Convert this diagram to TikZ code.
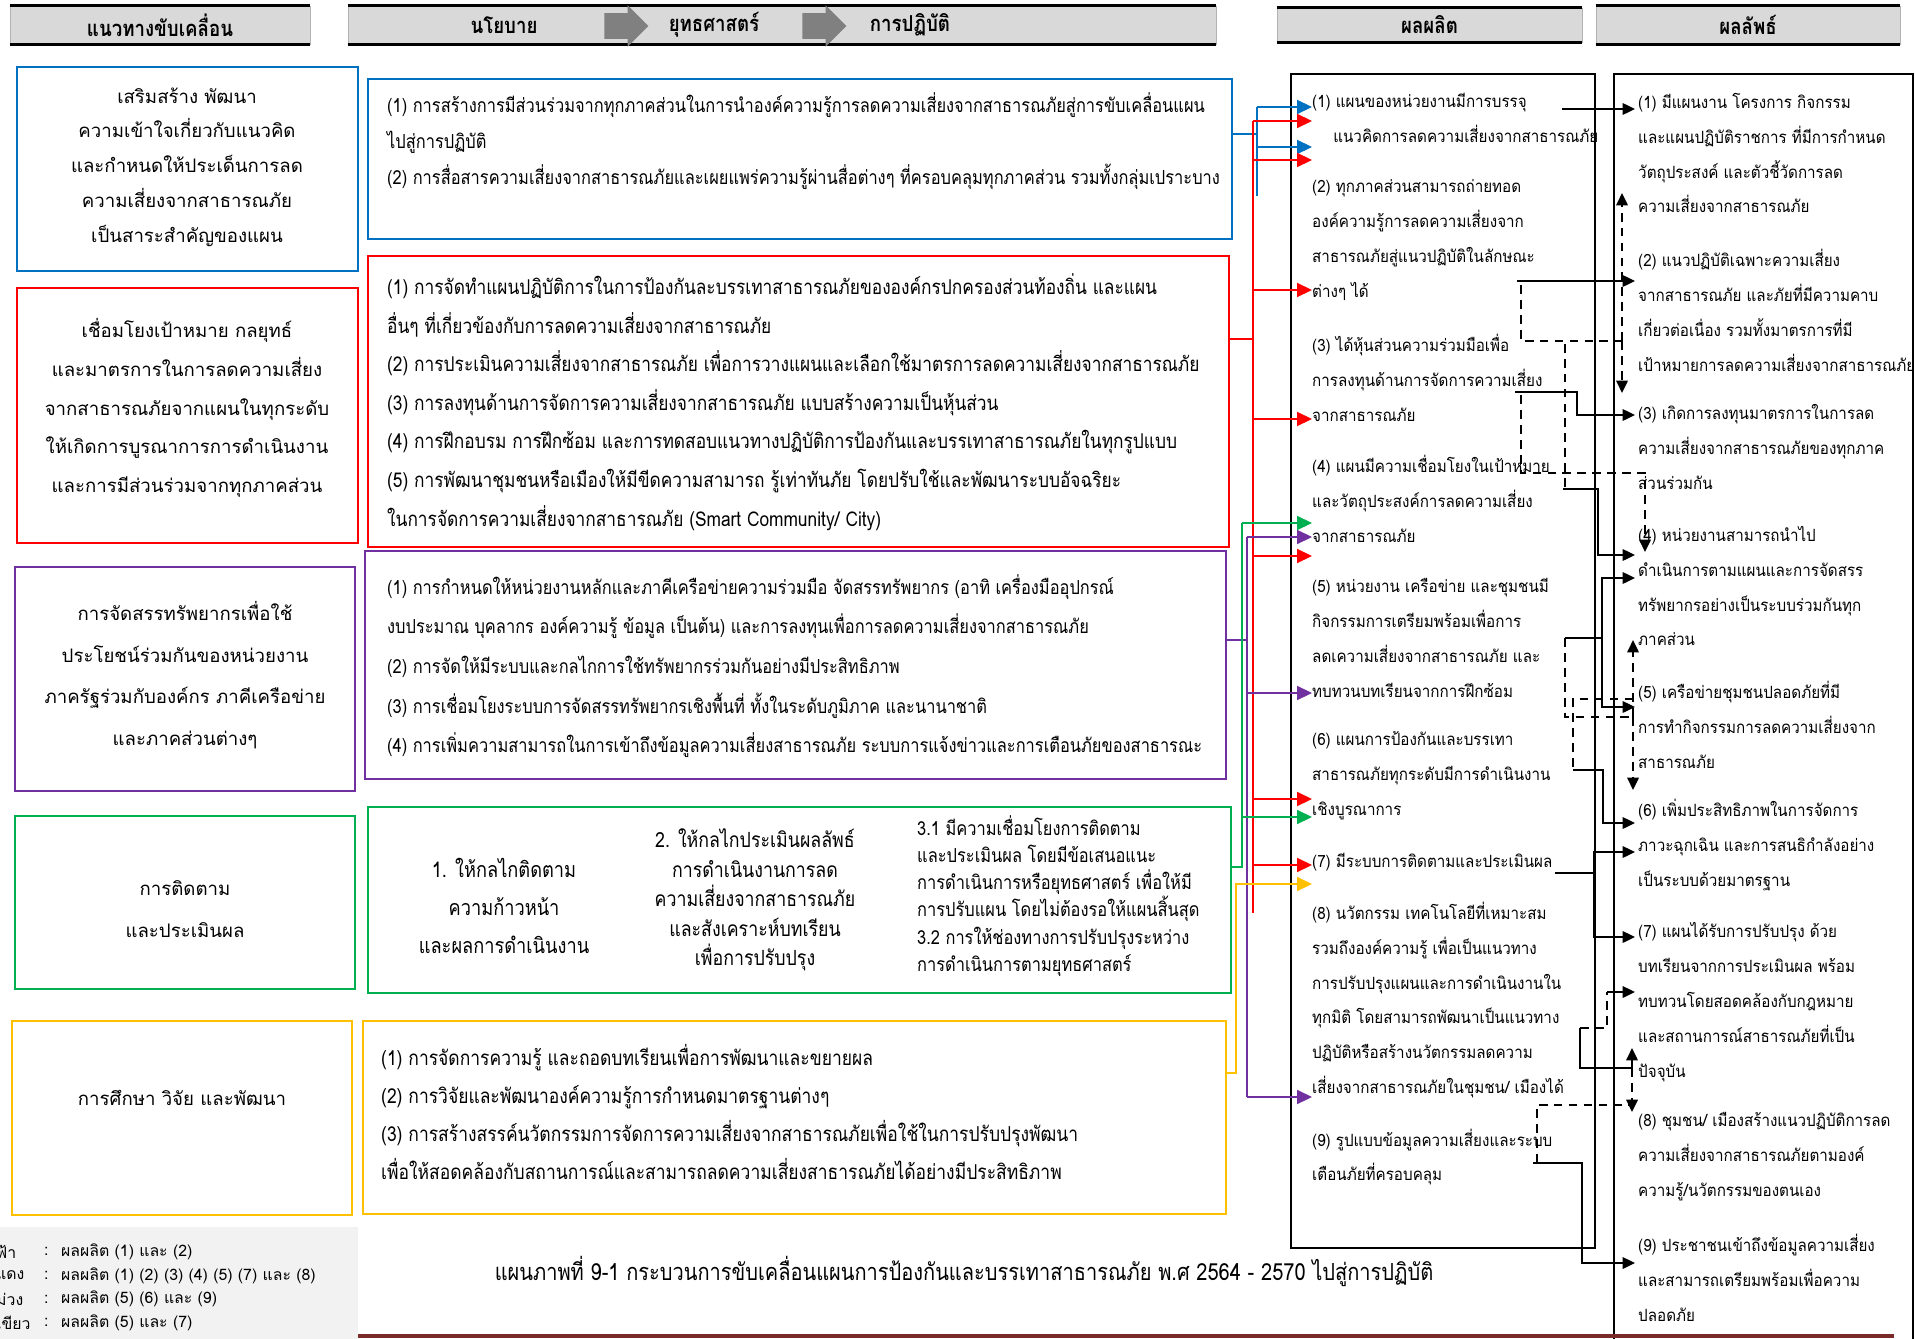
\documentclass[tikz,border=0pt]{standalone}
\usepackage{fontspec}
\setmainfont[Script=Thai]{Loma}
\newfontfamily\thaicond[Script=Thai,FakeStretch=0.85]{Loma}
\newfontfamily\thaiitem[Script=Thai,FakeStretch=0.9]{Loma}
\usetikzlibrary{arrows.meta,shapes.arrows,fit}

\definecolor{cblue}{HTML}{0070C0}
\definecolor{cred}{HTML}{FF0000}
\definecolor{cpurple}{HTML}{7030A0}
\definecolor{cgreen}{HTML}{00B050}
\definecolor{cyellow}{HTML}{FFC000}
\definecolor{hdrgray}{HTML}{D9D9D9}
\definecolor{legendgray}{HTML}{F2F2F2}
\definecolor{darkmaroon}{HTML}{7B2A2A}

\tikzset{
  boxline/.style={draw=#1, line width=1pt, inner sep=0pt},
  hdrbox/.style={fill=hdrgray, draw=gray!60, inner sep=0pt},
  hdrline/.style={line width=1.6pt},
  headtext/.style={font=\thaicond\bfseries\fontsize{12.5}{14}\selectfont},
  goaltext/.style={align=center, font=\fontsize{10.6}{#1}\selectfont},
  goaltext/.default=22pt,
  plantext/.style={anchor=west, align=left, font=\thaicond\fontsize{11}{#1}\selectfont},
  plantext/.default=22pt,
  itemtext/.style={anchor=west, align=left, font=\thaiitem\fontsize{9.6}{19.9pt}\selectfont},
  legendtext/.style={anchor=west, font=\fontsize{9}{10}\selectfont},
  colline/.style={draw=#1, line width=0.85pt},
  colarrow/.style={colline=#1, -{Triangle[length=8.5pt,width=8pt]}},
  bline/.style={line width=1.1pt},
  barrow/.style={bline, -{Triangle[length=7pt,width=6.5pt]}},
  bdash/.style={bline, dash pattern=on 5pt off 3.5pt},
  dasharrow/.style={bdash, -{Triangle[length=7pt,width=6.5pt]}},
  grayarrow/.style={single arrow, fill=gray, draw=none, inner xsep=0pt,
    inner ysep=0.25cm, text height=0pt, text depth=0pt,
    minimum height=0.88cm, single arrow head extend=0.16cm},
}

\begin{document}
\begin{tikzpicture}[x=0.02cm, y=-0.02cm]
\useasboundingbox (0,0) rectangle (1915,1338);

% header row
\node[hdrbox, fit={(10,6) (310,44)}] (hGoal) {};
\node[hdrbox, fit={(348,6) (1216,44)}] (hPlan) {};
\node[hdrbox, fit={(1277,8) (1582,42)}] (hOut) {};
\node[hdrbox, fit={(1596,6) (1900,44)}] (hRes) {};
\foreach \h in {hGoal,hPlan,hOut,hRes}
  \draw[hdrline] (\h.north west) -- (\h.north east) (\h.south west) -- (\h.south east);
\node[headtext] at (hGoal) {แนวทางขับเคลื่อน};
\node[headtext] at (hOut) {ผลผลิต};
\node[headtext] at (hRes) {ผลลัพธ์};
\node[headtext] (tPolicy) at (504,25) {นโยบาย};
\node[grayarrow] (gArrowA) at (620,26) {};
\node[headtext] (tStrategy) at (714,25) {ยุทธศาสตร์};
\node[grayarrow] (gArrowB) at (818,26) {};
\node[headtext] (tPractice) at (910,25) {การปฏิบัติ};

% guideline boxes
\node[boxline=cblue, fit={(17,67) (358,271)}] (gBlue) {};
\node[boxline=cred, fit={(17,288) (358,543)}] (gRed) {};
\node[boxline=cpurple, fit={(15,567) (355,791)}] (gPurple) {};
\node[boxline=cgreen, fit={(15,816) (355,989)}] (gGreen) {};
\node[boxline=cyellow, fit={(12,1021) (352,1215)}] (gYellow) {};

\node[goaltext=19.8pt] at (187,167) {เสริมสร้าง พัฒนา\\ความเข้าใจเกี่ยวกับแนวคิด\\และกำหนดให้ประเด็นการลด\\ความเสี่ยงจากสาธารณภัย\\เป็นสาระสำคัญของแผน};
\node[goaltext] at (187,408) {เชื่อมโยงเป้าหมาย กลยุทธ์\\และมาตรการในการลดความเสี่ยง\\จากสาธารณภัยจากแผนในทุกระดับ\\ให้เกิดการบูรณาการการดำเนินงาน\\และการมีส่วนร่วมจากทุกภาคส่วน};
\node[goaltext=23.6pt] at (185,675) {การจัดสรรทรัพยากรเพื่อใช้\\ประโยชน์ร่วมกันของหน่วยงาน\\ภาครัฐร่วมกับองค์กร ภาคีเครือข่าย\\และภาคส่วนต่างๆ};
\node[goaltext=23.6pt] at (185,909) {การติดตาม\\และประเมินผล};
\node[goaltext] at (182,1098) {การศึกษา วิจัย และพัฒนา};

% policy / strategy / practice boxes
\node[boxline=cblue, fit={(368,79) (1232,239)}] (mBlue) {};
\node[boxline=cred, fit={(368,256) (1229,547)}] (mRed) {};
\node[boxline=cpurple, fit={(365,551) (1226,779)}] (mPurple) {};
\node[boxline=cgreen, fit={(368,807) (1231,993)}] (mGreen) {};
\node[boxline=cyellow, fit={(363,1021) (1226,1214)}] (mYellow) {};

\node[plantext=20.5pt] at (381,141) {(1) การสร้างการมีส่วนร่วมจากทุกภาคส่วนในการนำองค์ความรู้การลดความเสี่ยงจากสาธารณภัยสู่การขับเคลื่อนแผน\\ไปสู่การปฏิบัติ\\(2) การสื่อสารความเสี่ยงจากสาธารณภัยและเผยแพร่ความรู้ผ่านสื่อต่างๆ ที่ครอบคลุมทุกภาคส่วน รวมทั้งกลุ่มเปราะบาง};
\node[plantext, font=\thaicond\fontsize{11.6}{22pt}\selectfont] at (381,402) {(1) การจัดทำแผนปฏิบัติการในการป้องกันละบรรเทาสาธารณภัยขององค์กรปกครองส่วนท้องถิ่น และแผน\\อื่นๆ ที่เกี่ยวข้องกับการลดความเสี่ยงจากสาธารณภัย\\(2) การประเมินความเสี่ยงจากสาธารณภัย เพื่อการวางแผนและเลือกใช้มาตรการลดความเสี่ยงจากสาธารณภัย\\(3) การลงทุนด้านการจัดการความเสี่ยงจากสาธารณภัย แบบสร้างความเป็นหุ้นส่วน\\(4) การฝึกอบรม การฝึกซ้อม และการทดสอบแนวทางปฏิบัติการป้องกันและบรรเทาสาธารณภัยในทุกรูปแบบ\\(5) การพัฒนาชุมชนหรือเมืองให้มีขีดความสามารถ รู้เท่าทันภัย โดยปรับใช้และพัฒนาระบบอัจฉริยะ\\ในการจัดการความเสี่ยงจากสาธารณภัย (Smart Community/ City)};
\node[plantext=22.6pt] at (381,666) {(1) การกำหนดให้หน่วยงานหลักและภาคีเครือข่ายความร่วมมือ จัดสรรทรัพยากร (อาทิ เครื่องมืออุปกรณ์\\งบประมาณ บุคลากร องค์ความรู้ ข้อมูล เป็นต้น) และการลงทุนเพื่อการลดความเสี่ยงจากสาธารณภัย\\(2) การจัดให้มีระบบและกลไกการใช้ทรัพยากรร่วมกันอย่างมีประสิทธิภาพ\\(3) การเชื่อมโยงระบบการจัดสรรทรัพยากรเชิงพื้นที่ ทั้งในระดับภูมิภาค และนานาชาติ\\(4) การเพิ่มความสามารถในการเข้าถึงข้อมูลความเสี่ยงสาธารณภัย ระบบการแจ้งข่าวและการเตือนภัยของสาธารณะ};
\node[plantext, anchor=center, align=center, font=\thaicond\fontsize{12.2}{21.6pt}\selectfont] at (504,906) {1. ให้กลไกติดตาม\\ความก้าวหน้า\\และผลการดำเนินงาน};
\node[plantext, anchor=center, align=center, font=\thaicond\fontsize{11.9}{16.8pt}\selectfont] at (755,900) {2. ให้กลไกประเมินผลลัพธ์\\การดำเนินงานการลด\\ความเสี่ยงจากสาธารณภัย\\และสังเคราะห์บทเรียน\\เพื่อการปรับปรุง};
\node[plantext=15.4pt] at (911,896) {3.1 มีความเชื่อมโยงการติดตาม\\และประเมินผล โดยมีข้อเสนอแนะ\\การดำเนินการหรือยุทธศาสตร์ เพื่อให้มี\\การปรับแผน โดยไม่ต้องรอให้แผนสิ้นสุด\\3.2 การให้ช่องทางการปรับปรุงระหว่าง\\การดำเนินการตามยุทธศาสตร์};
\node[plantext, font=\thaicond\fontsize{11.7}{21.6pt}\selectfont] at (375,1112) {(1) การจัดการความรู้ และถอดบทเรียนเพื่อการพัฒนาและขยายผล\\(2) การวิจัยและพัฒนาองค์ความรู้การกำหนดมาตรฐานต่างๆ\\(3) การสร้างสรรค์นวัตกรรมการจัดการความเสี่ยงจากสาธารณภัยเพื่อใช้ในการปรับปรุงพัฒนา\\เพื่อให้สอดคล้องกับสถานการณ์และสามารถลดความเสี่ยงสาธารณภัยได้อย่างมีประสิทธิภาพ};

% output and outcome columns
\node[draw, bline, inner sep=0pt, fit={(1291,74) (1595,1248)}] (outBox) {};
\draw[bline] (1614,1345) -- (1614,74) -- (1913,74) -- (1913,1345);

\node[itemtext] (o1) at (1306,118) {(1) แผนของหน่วยงานมีการบรรจุ\\\hspace*{12pt}แนวคิดการลดความเสี่ยงจากสาธารณภัย};
\node[itemtext] (o2) at (1306,240) {(2) ทุกภาคส่วนสามารถถ่ายทอด\\องค์ความรู้การลดความเสี่ยงจาก\\สาธารณภัยสู่แนวปฏิบัติในลักษณะ\\ต่างๆ ได้};
\node[itemtext] (o3) at (1306,378) {(3) ได้หุ้นส่วนความร่วมมือเพื่อ\\การลงทุนด้านการจัดการความเสี่ยง\\จากสาธารณภัย};
\node[itemtext] (o4) at (1306,499) {(4) แผนมีความเชื่อมโยงในเป้าหมาย\\และวัตถุประสงค์การลดความเสี่ยง\\จากสาธารณภัย};
\node[itemtext] (o5) at (1306,638) {(5) หน่วยงาน เครือข่าย และชุมชนมี\\กิจกรรมการเตรียมพร้อมเพื่อการ\\ลดเความเสี่ยงจากสาธารณภัย และ\\ทบทวนบทเรียนจากการฝึกซ้อม};
\node[itemtext] (o6) at (1306,776) {(6) แผนการป้องกันและบรรเทา\\สาธารณภัยทุกระดับมีการดำเนินงาน\\เชิงบูรณาการ};
\node[itemtext] (o7) at (1306,862) {(7) มีระบบการติดตามและประเมินผล};
\node[itemtext] (o8) at (1306,1000) {(8) นวัตกรรม เทคโนโลยีที่เหมาะสม\\รวมถึงองค์ความรู้ เพื่อเป็นแนวทาง\\การปรับปรุงแผนและการดำเนินงานใน\\ทุกมิติ โดยสามารถพัฒนาเป็นแนวทาง\\ปฏิบัติหรือสร้างนวัตกรรมลดความ\\เสี่ยงจากสาธารณภัยในชุมชน/ เมืองได้};
\node[itemtext] (o9) at (1306,1157) {(9) รูปแบบข้อมูลความเสี่ยงและระบบ\\เตือนภัยที่ครอบคลุม};

\node[itemtext] (r1) at (1632,153) {(1) มีแผนงาน โครงการ กิจกรรม\\และแผนปฏิบัติราชการ ที่มีการกำหนด\\วัตถุประสงค์ และตัวชี้วัดการลด\\ความเสี่ยงจากสาธารณภัย};
\node[itemtext] (r2) at (1632,310) {(2) แนวปฏิบัติเฉพาะความเสี่ยง\\จากสาธารณภัย และภัยที่มีความคาบ\\เกี่ยวต่อเนื่อง รวมทั้งมาตรการที่มี\\เป้าหมายการลดความเสี่ยงจากสาธารณภัย};
\node[itemtext] (r3) at (1632,447) {(3) เกิดการลงทุนมาตรการในการลด\\ความเสี่ยงจากสาธารณภัยของทุกภาค\\ส่วนร่วมกัน};
\node[itemtext] (r4) at (1632,586) {(4) หน่วยงานสามารถนำไป\\ดำเนินการตามแผนและการจัดสรร\\ทรัพยากรอย่างเป็นระบบร่วมกันทุก\\ภาคส่วน};
\node[itemtext] (r5) at (1632,725) {(5) เครือข่ายชุมชนปลอดภัยที่มี\\การทำกิจกรรมการลดความเสี่ยงจาก\\สาธารณภัย};
\node[itemtext] (r6) at (1632,845) {(6) เพิ่มประสิทธิภาพในการจัดการ\\ภาวะฉุกเฉิน และการสนธิกำลังอย่าง\\เป็นระบบด้วยมาตรฐาน};
\node[itemtext] (r7) at (1632,1002) {(7) แผนได้รับการปรับปรุง ด้วย\\บทเรียนจากการประเมินผล พร้อม\\ทบทวนโดยสอดคล้องกับกฎหมาย\\และสถานการณ์สาธารณภัยที่เป็น\\ปัจจุบัน};
\node[itemtext] (r8) at (1632,1157) {(8) ชุมชน/ เมืองสร้างแนวปฏิบัติการลด\\ความเสี่ยงจากสาธารณภัยตามองค์\\ความรู้/นวัตกรรมของตนเอง};
\node[itemtext] (r9) at (1632,1278) {(9) ประชาชนเข้าถึงข้อมูลความเสี่ยง\\และสามารถเตรียมพร้อมเพื่อความ\\ปลอดภัย};

% coloured links into the outputs
\draw[colline=cblue] (mBlue.east |- 0,134) -- (1257,134);
\draw[colline=cblue] (1257,107) -- (1257,196);
\foreach \yy in {107,147}
  \draw[colarrow=cblue] (1257,\yy) -- (1312,\yy);
\draw[colline=cred] (mRed.east |- 0,339) -- (1253,339);
\draw[colline=cred] (1253,121) -- (1253,913);
\foreach \yy in {121,160,290,419,556,799,865}
  \draw[colarrow=cred] (1253,\yy) -- (1312,\yy);
\draw[colline=cpurple] (mPurple.east |- 0,640) -- (1247,640);
\draw[colline=cpurple] (1247,537) -- (1247,1097);
\foreach \yy in {537,693,1097}
  \draw[colarrow=cpurple] (1247,\yy) -- (1312,\yy);
\draw[colline=cgreen] (mGreen.east |- 0,867) -- (1242,867) -- (1242,523);
\foreach \yy in {523,817}
  \draw[colarrow=cgreen] (1242,\yy) -- (1312,\yy);
\draw[colarrow=cyellow] (mYellow.east |- 0,1073) -- (1236,1073) -- (1236,884) -- (1312,884);

% outputs -> outcomes
\draw[barrow] (1562,109) -- (1635,109);
\draw[barrow] (1517,281) -- (1635,281);
\draw[barrow] (1515,392) -- (1577,392) -- (1577,415) -- (1635,415);
\draw[barrow] (1563,489) -- (1598,489) -- (1598,555) -- (1635,555);
\draw[barrow] (1565,638) -- (1602,638) -- (1602,578) -- (1635,578);
\draw[barrow] (1602,638) -- (1602,707) -- (1635,707);
\draw[barrow] (1573,770) -- (1603,770) -- (1603,823) -- (1635,823);
\draw[bline] (1555,873) -- (1594,873);
\draw[barrow] (1594,873) -- (1594,852) -- (1635,852);
\draw[barrow] (1594,873) -- (1594,937) -- (1635,937);
\draw[bline] (1580,1028) -- (1580,1068) -- (1632,1068);
\draw[barrow] (1632,1068) -- (1632,1048);
\draw[bdash] (1580,1028) -- (1607,1028) -- (1607,992);
\draw[barrow] (1607,992) -- (1635,992);
\draw[barrow] (1533,1163) -- (1582,1163) -- (1582,1263) -- (1635,1263);
\draw[bdash] (1537,1163) -- (1537,1105) -- (1632,1105);
\draw[dasharrow] (1632,1068) -- (1632,1112);
% dashed cross links
\draw[bdash] (1521,285) -- (1521,341) -- (1622,341);
\draw[bdash] (1565,487) -- (1565,341);
\draw[dasharrow] (1622,341) -- (1622,193);
\draw[dasharrow] (1622,341) -- (1622,393);
\draw[dasharrow] (1521,395) -- (1521,473) -- (1645,473) -- (1645,552);
\draw[bdash] (1565,638) -- (1565,717) -- (1633,717);
\draw[bdash] (1573,767) -- (1573,699) -- (1633,699);
\draw[dasharrow] (1633,717) -- (1633,640);
\draw[dasharrow] (1633,717) -- (1633,790);

% legend and caption
\fill[legendgray] (-5,1227) rectangle (358,1345);
\foreach \c/\t [count=\i] in {ฟ้า/ผลผลิต (1) และ (2), แดง/ผลผลิต (1) (2) (3) (4) (5) (7) และ (8), ม่วง/ผลผลิต (5) (6) และ (9), เขียว/ผลผลิต (5) และ (7)} {
  \node[legendtext] (lc\i) at (-10,1228+23.7*\i) {\c};
  \node[legendtext] (ls\i) at (38,1228+23.7*\i) {:};
  \node[legendtext] (lt\i) at (55,1228+23.7*\i) {\t};
}
\node[font=\thaicond\fontsize{13.4}{15}\selectfont] (caption) at (964,1271) {แผนภาพที่ 9-1 กระบวนการขับเคลื่อนแผนการป้องกันและบรรเทาสาธารณภัย พ.ศ 2564 - 2570 ไปสู่การปฏิบัติ};
\draw[darkmaroon, line width=2pt] (358,1336) -- (1894,1336);
\end{tikzpicture}
\end{document}
